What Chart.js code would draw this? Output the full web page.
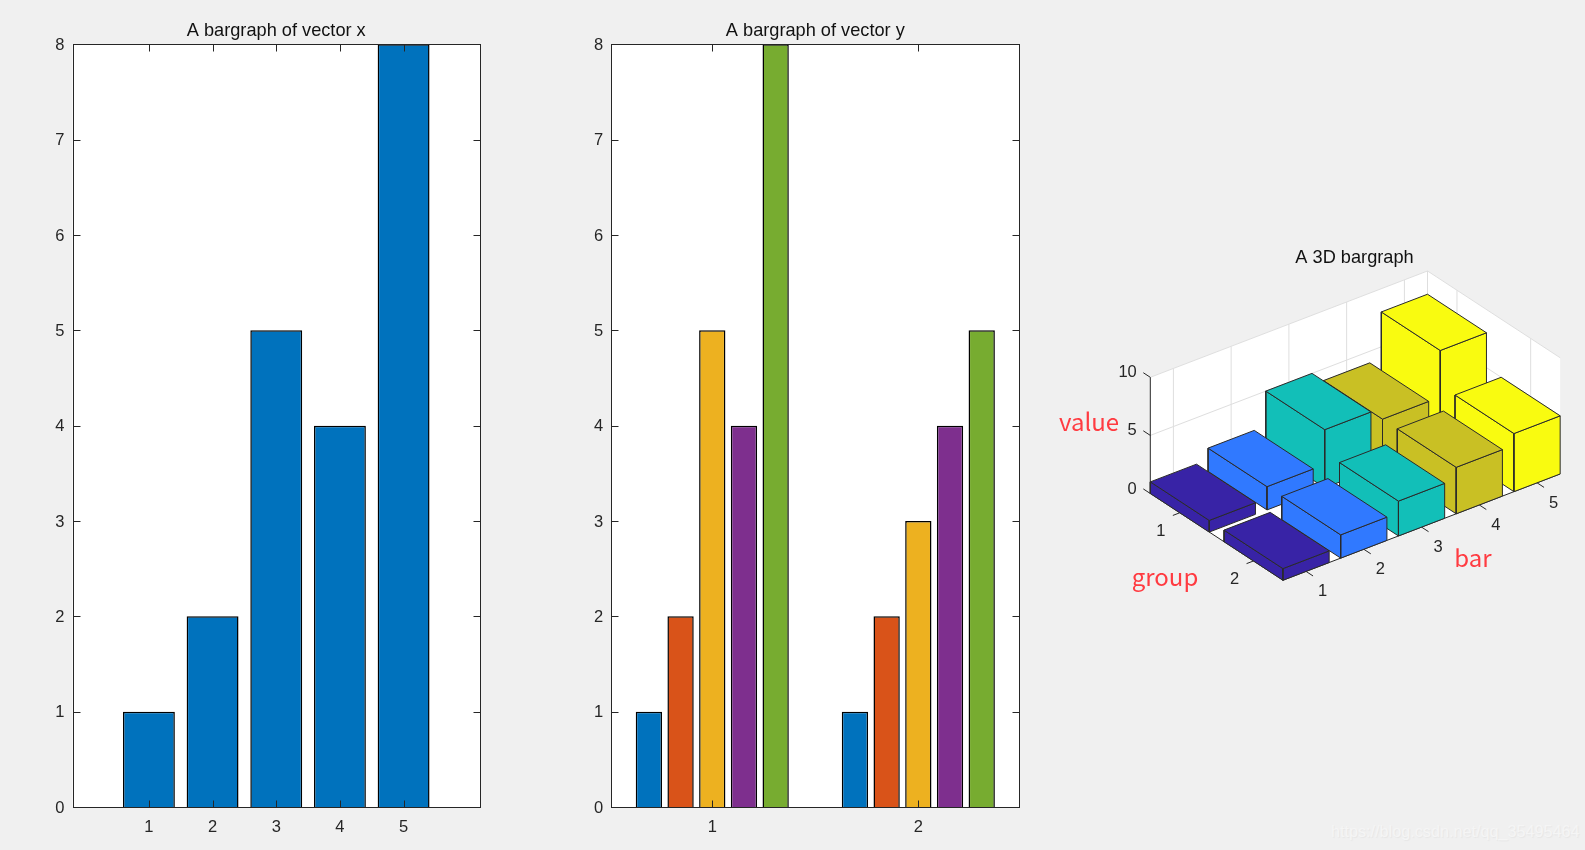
<!DOCTYPE html>
<html>
<head>
<meta charset="utf-8">
<title>Bar graphs</title>
<script src="https://cdn.jsdelivr.net/npm/chart.js@4"></script>
<style>
    html, body { margin: 0; padding: 0; background: #f0f0f0; overflow: hidden; }
    canvas { position: absolute; }
    #c1 { left: 0; top: 0; }
    #c2 { left: 560px; top: 0; }
    #c3 { left: 1030px; top: 235px; }
    #mark {
        position: absolute; left: 1331px; top: 822px;
        font: 16.2px "Liberation Sans", Arial, sans-serif;
        color: #f5f5f5; text-shadow: 1px 1px 1px #e6e6e6; white-space: nowrap;
    }
</style>
</head>
<body>
<canvas id="c1" width="530" height="850"></canvas>
<canvas id="c2" width="510" height="850"></canvas>
<canvas id="c3" width="555" height="385"></canvas>
<div id="mark">https://blog.csdn.net/qq_35495464</div>
<script>
// Data
const vectorX = [1, 2, 5, 4, 8];
const vectorY1 = [1, 2, 5, 4, 8];
const vectorY2 = [1, 2, 3, 4, 5];
const positionsX = [1, 2, 3, 4, 5];
const groupsY = [1, 2];
const valueTicks = [0, 1, 2, 3, 4, 5, 6, 7, 8];
const barTicks3d = [1, 2, 3, 4, 5];
const groupTicks3d = [1, 2];
const zTicks3d = [0, 5, 10];

const titles = ['A bargraph of vector x', 'A bargraph of vector y', 'A 3D bargraph'];
const seriesColors = ['#0072BD', '#D95319', '#EDB120', '#7E2F8E', '#77AC30'];
const barColors3d = ['#3823a6', '#3079ff', '#12bfb8', '#c9c024', '#f9fb10'];

const inkColor = '#262626';
const tickFont = { family: '"Liberation Sans", Arial, sans-serif', size: 16.5 };

Chart.defaults.animation = false;
Chart.defaults.responsive = false;

// MATLAB style box with the ticks on the inside of all four sides
const boxTicks = {
    id: 'boxTicks',
    beforeDatasetsDraw(chart) {
        const a = chart.chartArea;
        chart.ctx.save();
        chart.ctx.fillStyle = '#fff';
        chart.ctx.fillRect(a.left, a.top, a.right - a.left, a.bottom - a.top);
        chart.ctx.restore();
    },
    afterDraw(chart) {
        const ctx = chart.ctx;
        const a = chart.chartArea;
        const len = 7;
        ctx.save();
        ctx.strokeStyle = inkColor;
        ctx.lineWidth = 1;
        ctx.translate(0.5, 0.5);
        const l = Math.round(a.left), r = Math.round(a.right), t = Math.round(a.top), b = Math.round(a.bottom);
        ctx.strokeRect(l, t, r - l, b - t);
        ctx.beginPath();
        chart.scales.x.ticks.forEach((tk, i) => {
            const x = Math.round(chart.scales.x.getPixelForTick(i));
            ctx.moveTo(x, b); ctx.lineTo(x, b - len);
            ctx.moveTo(x, t); ctx.lineTo(x, t + len);
        });
        chart.scales.y.ticks.forEach((tk, i) => {
            const y = Math.round(chart.scales.y.getPixelForTick(i));
            ctx.moveTo(l, y); ctx.lineTo(l + len, y);
            ctx.moveTo(r, y); ctx.lineTo(r - len, y);
        });
        ctx.stroke();
        ctx.restore();
    }
};

function barOptions(title, xMin, xMax, xTicks, yWidth, rightPad) {
    return {
        layout: { padding: { right: rightPad } },
        plugins: {
            legend: { display: false },
            tooltip: { enabled: false },
            title: {
                display: true,
                text: title,
                fullSize: false,
                color: '#111',
                font: { family: tickFont.family, size: 18.2, weight: 'normal' },
                padding: { top: 20, bottom: 2.5 }
            }
        },
        scales: {
            x: {
                type: 'linear',
                offset: false,
                min: xMin,
                max: xMax,
                grid: { display: false, drawTicks: false },
                border: { display: false },
                ticks: { color: inkColor, font: tickFont, padding: 11, maxRotation: 0, autoSkip: false },
                afterBuildTicks(axis) { axis.ticks = xTicks.map(v => ({ value: v })); },
                afterFit(axis) { axis.height = 43; }
            },
            y: {
                min: 0,
                max: 8,
                grid: { display: false, drawTicks: false },
                border: { display: false },
                ticks: { color: inkColor, font: tickFont, padding: 8, stepSize: 1, labelOffset: 1 },
                afterBuildTicks(axis) { axis.ticks = valueTicks.map(v => ({ value: v })); },
                afterFit(axis) { axis.width = yWidth; }
            }
        }
    };
}

// Left chart
new Chart(document.getElementById('c1'), {
    type: 'bar',
    data: {
        datasets: [{
            data: positionsX.map((p, i) => ({ x: p, y: vectorX[i] })),
            backgroundColor: seriesColors[0],
            borderColor: '#000',
            borderWidth: 1.5,
            categoryPercentage: 1,
            barPercentage: 0.815
        }]
    },
    options: barOptions(titles[0], -0.2, 6.2, positionsX, 72.5, 50),
    plugins: [boxTicks]
});

// Middle chart, one dataset per bar position
const groupedSeries = positionsX.map((p, i) => ({
    data: groupsY.map((g, k) => ({ x: g, y: (k === 0 ? vectorY1 : vectorY2)[i] })),
    backgroundColor: seriesColors[i],
    borderColor: '#000',
    borderWidth: 1.5,
    categoryPercentage: 0.769,
    barPercentage: 0.83
}));

new Chart(document.getElementById('c2'), {
    type: 'bar',
    data: { datasets: groupedSeries },
    options: barOptions(titles[1], 0.51, 2.49, groupsY, 51.3, 50.7),
    plugins: [boxTicks]
});

// 3D chart: a flat scatter chart in page pixels, the boxes are closed filled lines
const origin3d = { x: 1150.3, y: 493.5 };
const barStep = { x: 57.75, y: -22.15 };
const groupStep = { x: 73.7, y: 48.2 };
const zStep = 11.62;
const barLim = [0.6, 5.4];
const groupLim = [0.6, 2.4];
const zLim = [0, 10];
const halfWidth = 0.4;

function project(b, g, z) {
    return {
        x: origin3d.x + (b - barLim[0]) * barStep.x + (g - groupLim[0]) * groupStep.x,
        y: origin3d.y + (b - barLim[0]) * barStep.y + (g - groupLim[0]) * groupStep.y - z * zStep
    };
}

const layers = [];

function polygon(points, fill, edge, width) {
    layers.push({
        data: points.concat([points[0]]),
        showLine: true,
        fill: 'shape',
        backgroundColor: fill,
        borderColor: edge,
        borderWidth: width,
        pointRadius: 0,
        clip: false
    });
}

function segment(p, q, color) {
    layers.push({
        data: [p, q],
        showLine: true,
        fill: false,
        borderColor: color,
        borderWidth: 1,
        pointRadius: 0,
        clip: false
    });
}

const [b0, b1] = barLim;
const [g0, g1] = groupLim;
const zTop = zLim[1];
const gridColor = '#dedede';

// walls and floor
polygon([project(b0, g0, 0), project(b1, g0, 0), project(b1, g0, zTop), project(b0, g0, zTop)], '#fff', 'transparent', 0);
polygon([project(b1, g0, 0), project(b1, g1, 0), project(b1, g1, zTop), project(b1, g0, zTop)], '#fff', 'transparent', 0);
polygon([project(b0, g0, 0), project(b1, g0, 0), project(b1, g1, 0), project(b0, g1, 0)], '#fff', 'transparent', 0);

// grid on the walls
zTicks3d.forEach(z => {
    segment(project(b0, g0, z), project(b1, g0, z), gridColor);
    segment(project(b1, g0, z), project(b1, g1, z), gridColor);
});
barTicks3d.forEach(b => segment(project(b, g0, 0), project(b, g0, zTop), gridColor));
groupTicks3d.forEach(g => segment(project(b1, g, 0), project(b1, g, zTop), gridColor));
segment(project(b1, g0, 0), project(b1, g0, zTop), gridColor);

// axis lines and ticks
segment(project(b0, g0, 0), project(b0, g0, zTop), inkColor);
segment(project(b0, g0, 0), project(b0, g1, 0), inkColor);
segment(project(b0, g1, 0), project(b1, g1, 0), inkColor);
zTicks3d.forEach(z => segment(project(b0, g0, z), project(b0, g0 - 0.095, z), inkColor));
groupTicks3d.forEach(g => segment(project(b0, g, 0), project(b0 - 0.12, g, 0), inkColor));
barTicks3d.forEach(b => segment(project(b, g1, 0), project(b, g1 + 0.095, 0), inkColor));

// boxes, far ones first
[vectorY1, vectorY2].forEach((row, gi) => {
    for (let bi = row.length - 1; bi >= 0; bi--) {
        const v = row[bi];
        const color = barColors3d[bi];
        const bL = barTicks3d[bi] - halfWidth, bH = barTicks3d[bi] + halfWidth;
        const gL = groupTicks3d[gi] - halfWidth, gH = groupTicks3d[gi] + halfWidth;
        polygon([project(bL, gL, 0), project(bL, gH, 0), project(bL, gH, v), project(bL, gL, v)], color, '#2a2a2a', 1);
        polygon([project(bL, gH, 0), project(bH, gH, 0), project(bH, gH, v), project(bL, gH, v)], color, '#2a2a2a', 1);
        polygon([project(bL, gL, v), project(bH, gL, v), project(bH, gH, v), project(bL, gH, v)], color, '#2a2a2a', 1);
    }
});

// Labels of the 3D chart and the red notes on it
const labels3d = {
    id: 'labels3d',
    afterDraw(chart) {
        const ctx = chart.ctx;
        const sx = chart.scales.x, sy = chart.scales.y;
        const put = (text, x, y) => ctx.fillText(text, sx.getPixelForValue(x), sy.getPixelForValue(y));
        ctx.save();
        ctx.textBaseline = 'middle';
        ctx.fillStyle = inkColor;
        ctx.font = tickFont.size + 'px ' + tickFont.family;
        ctx.textAlign = 'right';
        zTicks3d.forEach(z => { const p = project(b0, g0, z); put(String(z), p.x - 13.5, p.y - 4.5); });
        ctx.textAlign = 'center';
        groupTicks3d.forEach(g => { const p = project(b0, g, 0); put(String(g), p.x - 19, p.y + 18.5); });
        barTicks3d.forEach(b => { const p = project(b, g1, 0); put(String(b), p.x + 16.6, p.y + 20.5); });
        ctx.fillStyle = '#111';
        ctx.font = '18.2px ' + tickFont.family;
        put(titles[2], 1354.5, 258);
        ctx.fillStyle = '#ff3b41';
        ctx.font = '24px "Noto Sans CJK SC", "Noto Sans", sans-serif';
        put('value', 1089, 422);
        put('group', 1165, 577);
        put('bar', 1473, 558);
        ctx.restore();
    }
};

new Chart(document.getElementById('c3'), {
    type: 'scatter',
    data: { datasets: layers.slice().reverse() },
    options: {
        layout: { padding: 0 },
        plugins: { legend: { display: false }, tooltip: { enabled: false } },
        scales: {
            x: { type: 'linear', display: false, min: 1030, max: 1585 },
            y: { type: 'linear', display: false, min: 235, max: 620, reverse: true }
        }
    },
    plugins: [labels3d]
});
</script>
</body>
</html>
